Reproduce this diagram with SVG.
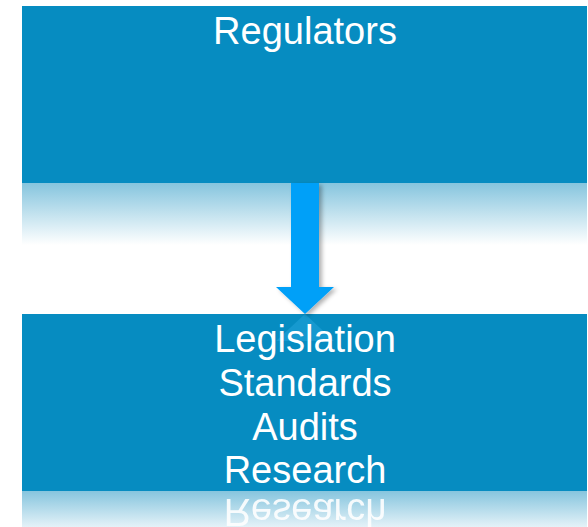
<svg xmlns="http://www.w3.org/2000/svg" width="588" height="527" viewBox="0 0 588 527">
<defs>
<linearGradient id="refl" x1="0" y1="0" x2="0" y2="1">
<stop offset="0" stop-color="#86c5de"/>
<stop offset="1" stop-color="#ffffff"/>
</linearGradient>
<linearGradient id="refl2" x1="0" y1="0" x2="0" y2="1">
<stop offset="0" stop-color="#86c5de"/>
<stop offset="1" stop-color="#e4f2f8"/>
</linearGradient>
<filter id="sh" x="-20%" y="-10%" width="150%" height="130%">
<feDropShadow dx="3" dy="2" stdDeviation="2" flood-color="#000" flood-opacity="0.3"/>
</filter>
<clipPath id="clipR"><rect x="22" y="491" width="565" height="36"/></clipPath>
</defs>
<style>
.box{fill:#068cc1}
.lbl{font-family:"Liberation Sans",Arial,sans-serif;font-size:38px;fill:#ffffff;text-anchor:middle}
</style>
<g id="regulators">
<rect x="22" y="183" width="565" height="62" fill="url(#refl)"/>
<rect class="box" x="22" y="6" width="565" height="177"/>
<text class="lbl" x="305" y="44">Regulators</text>
</g>
<g id="activities">
<rect x="22" y="491" width="565" height="36" fill="url(#refl2)"/>
<rect class="box" x="22" y="314" width="565" height="177"/>
<polygon points="276,341 334,341 305,314" fill="#2aa8e0" opacity="0.45"/>
<text class="lbl" x="305" y="352">Legislation</text>
<text class="lbl" x="305" y="396">Standards</text>
<text class="lbl" x="305" y="440">Audits</text>
<text class="lbl" x="305" y="483">Research</text>
<g clip-path="url(#clipR)">
<text class="lbl" x="305" y="-499" transform="scale(1,-1)" opacity="0.9">Research</text>
</g>
</g>
<g id="connectors">
<polygon points="291,183 319,183 319,287 334,287 305,314 276,287 291,287" fill="#00a0f8" filter="url(#sh)"/>
</g>
</svg>
